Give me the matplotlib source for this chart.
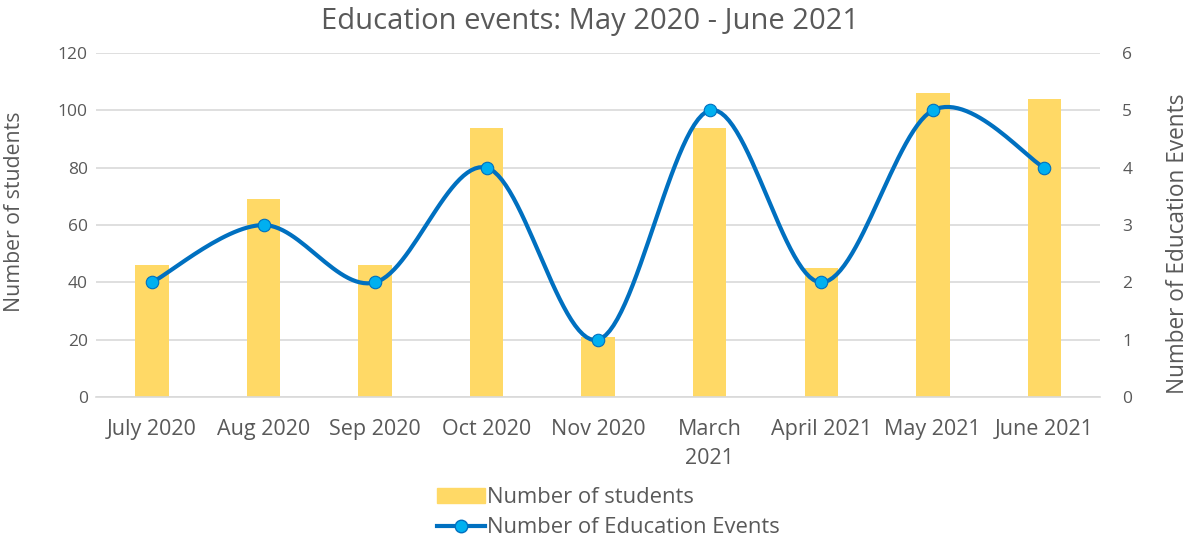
import matplotlib.pyplot as plt
import numpy as np
from matplotlib.lines import Line2D
from matplotlib.patches import Patch

plt.rcParams['font.family'] = ['Open Sans', 'DejaVu Sans']

months = ['July 2020', 'Aug 2020', 'Sep 2020', 'Oct 2020', 'Nov 2020',
          'March\n2021', 'April 2021', 'May 2021', 'June 2021']
students = [46, 69, 46, 94, 21, 94, 45, 106, 104]
events = [2, 3, 2, 4, 1, 5, 2, 5, 4]

grey = '#595959'


def smooth(x, y, n=30):
    # Catmull-Rom style smoothing like Excel's "smoothed line"
    x = np.asarray(x, float)
    y = np.asarray(y, float)
    px = np.concatenate([[x[0]], x, [x[-1]]])
    py = np.concatenate([[y[0]], y, [y[-1]]])
    xs, ys = [], []
    t = np.linspace(0, 1, n)
    for i in range(1, len(px) - 2):
        p0, p1, p2, p3 = (np.array([px[j], py[j]]) for j in range(i - 1, i + 3))
        c1 = p1 + (p2 - p0) / 6
        c2 = p2 - (p3 - p1) / 6
        b = ((1 - t) ** 3)[:, None] * p1 + (3 * (1 - t) ** 2 * t)[:, None] * c1 \
            + (3 * (1 - t) * t ** 2)[:, None] * c2 + (t ** 3)[:, None] * p2
        xs.extend(b[:, 0])
        ys.extend(b[:, 1])
    return xs, ys


fig = plt.figure(figsize=(11.88, 5.41), dpi=100)
ax = fig.add_axes([0.081, 0.266, 0.845, 0.636])
ax2 = ax.twinx()

x = np.arange(len(months))
ax.bar(x, students, width=0.3, color='#FFD966', zorder=2)

sx, sy = smooth(x, events)
ax2.plot(sx, sy, color='#0070C0', lw=3, zorder=3)
ax2.plot(x, events, 'o', ms=9, color='#00B0F0', mec='#0070C0', mew=0.8, zorder=4)

ax.set_xlim(-0.5, len(months) - 0.5)
ax.set_ylim(0, 120)
ax.set_yticks(range(0, 121, 20))
ax2.set_ylim(0, 6)
ax2.set_yticks(range(0, 7))
ax.yaxis.grid(True, color='#D9D9D9', lw=1.2, zorder=0)
ax.set_axisbelow(True)

for a in (ax, ax2):
    for s in a.spines.values():
        s.set_visible(False)
    a.tick_params(length=0, colors=grey, labelsize=12.5)
ax.spines['bottom'].set_visible(True)
ax.spines['bottom'].set_color('#D9D9D9')
ax.spines['bottom'].set_linewidth(1.2)

ax.set_xticks(x)
ax.set_xticklabels(months, fontsize=15.5, color=grey, linespacing=1.45)
ax.tick_params(axis='x', pad=16)
ax.tick_params(axis='y', pad=6)
ax2.tick_params(axis='y', pad=16)

ax.set_ylabel('Number of students', fontsize=15.3, color=grey)
ax.yaxis.set_label_coords(-0.071, 0.54)
ax2.set_ylabel('Number of Education Events', fontsize=16.3, color=grey)
ax2.yaxis.set_label_coords(1.066, 0.445)
ax.set_title('Education events: May 2020 - June 2021', fontsize=21, color=grey,
             pad=17, x=0.492)

handles = [Patch(color='#FFD966'),
           Line2D([], [], color='#0070C0', lw=3, marker='o', ms=9,
                  mfc='#00B0F0', mec='#0070C0')]
fig.legend(handles, ['Number of students', 'Number of Education Events'],
           loc='upper center', bbox_to_anchor=(0.512, 0.132), frameon=False,
           fontsize=15.8, labelcolor=grey, handlelength=2.2, handletextpad=0.05,
           labelspacing=0.42, borderpad=0.3)

fig.savefig('out.png', dpi=100)
